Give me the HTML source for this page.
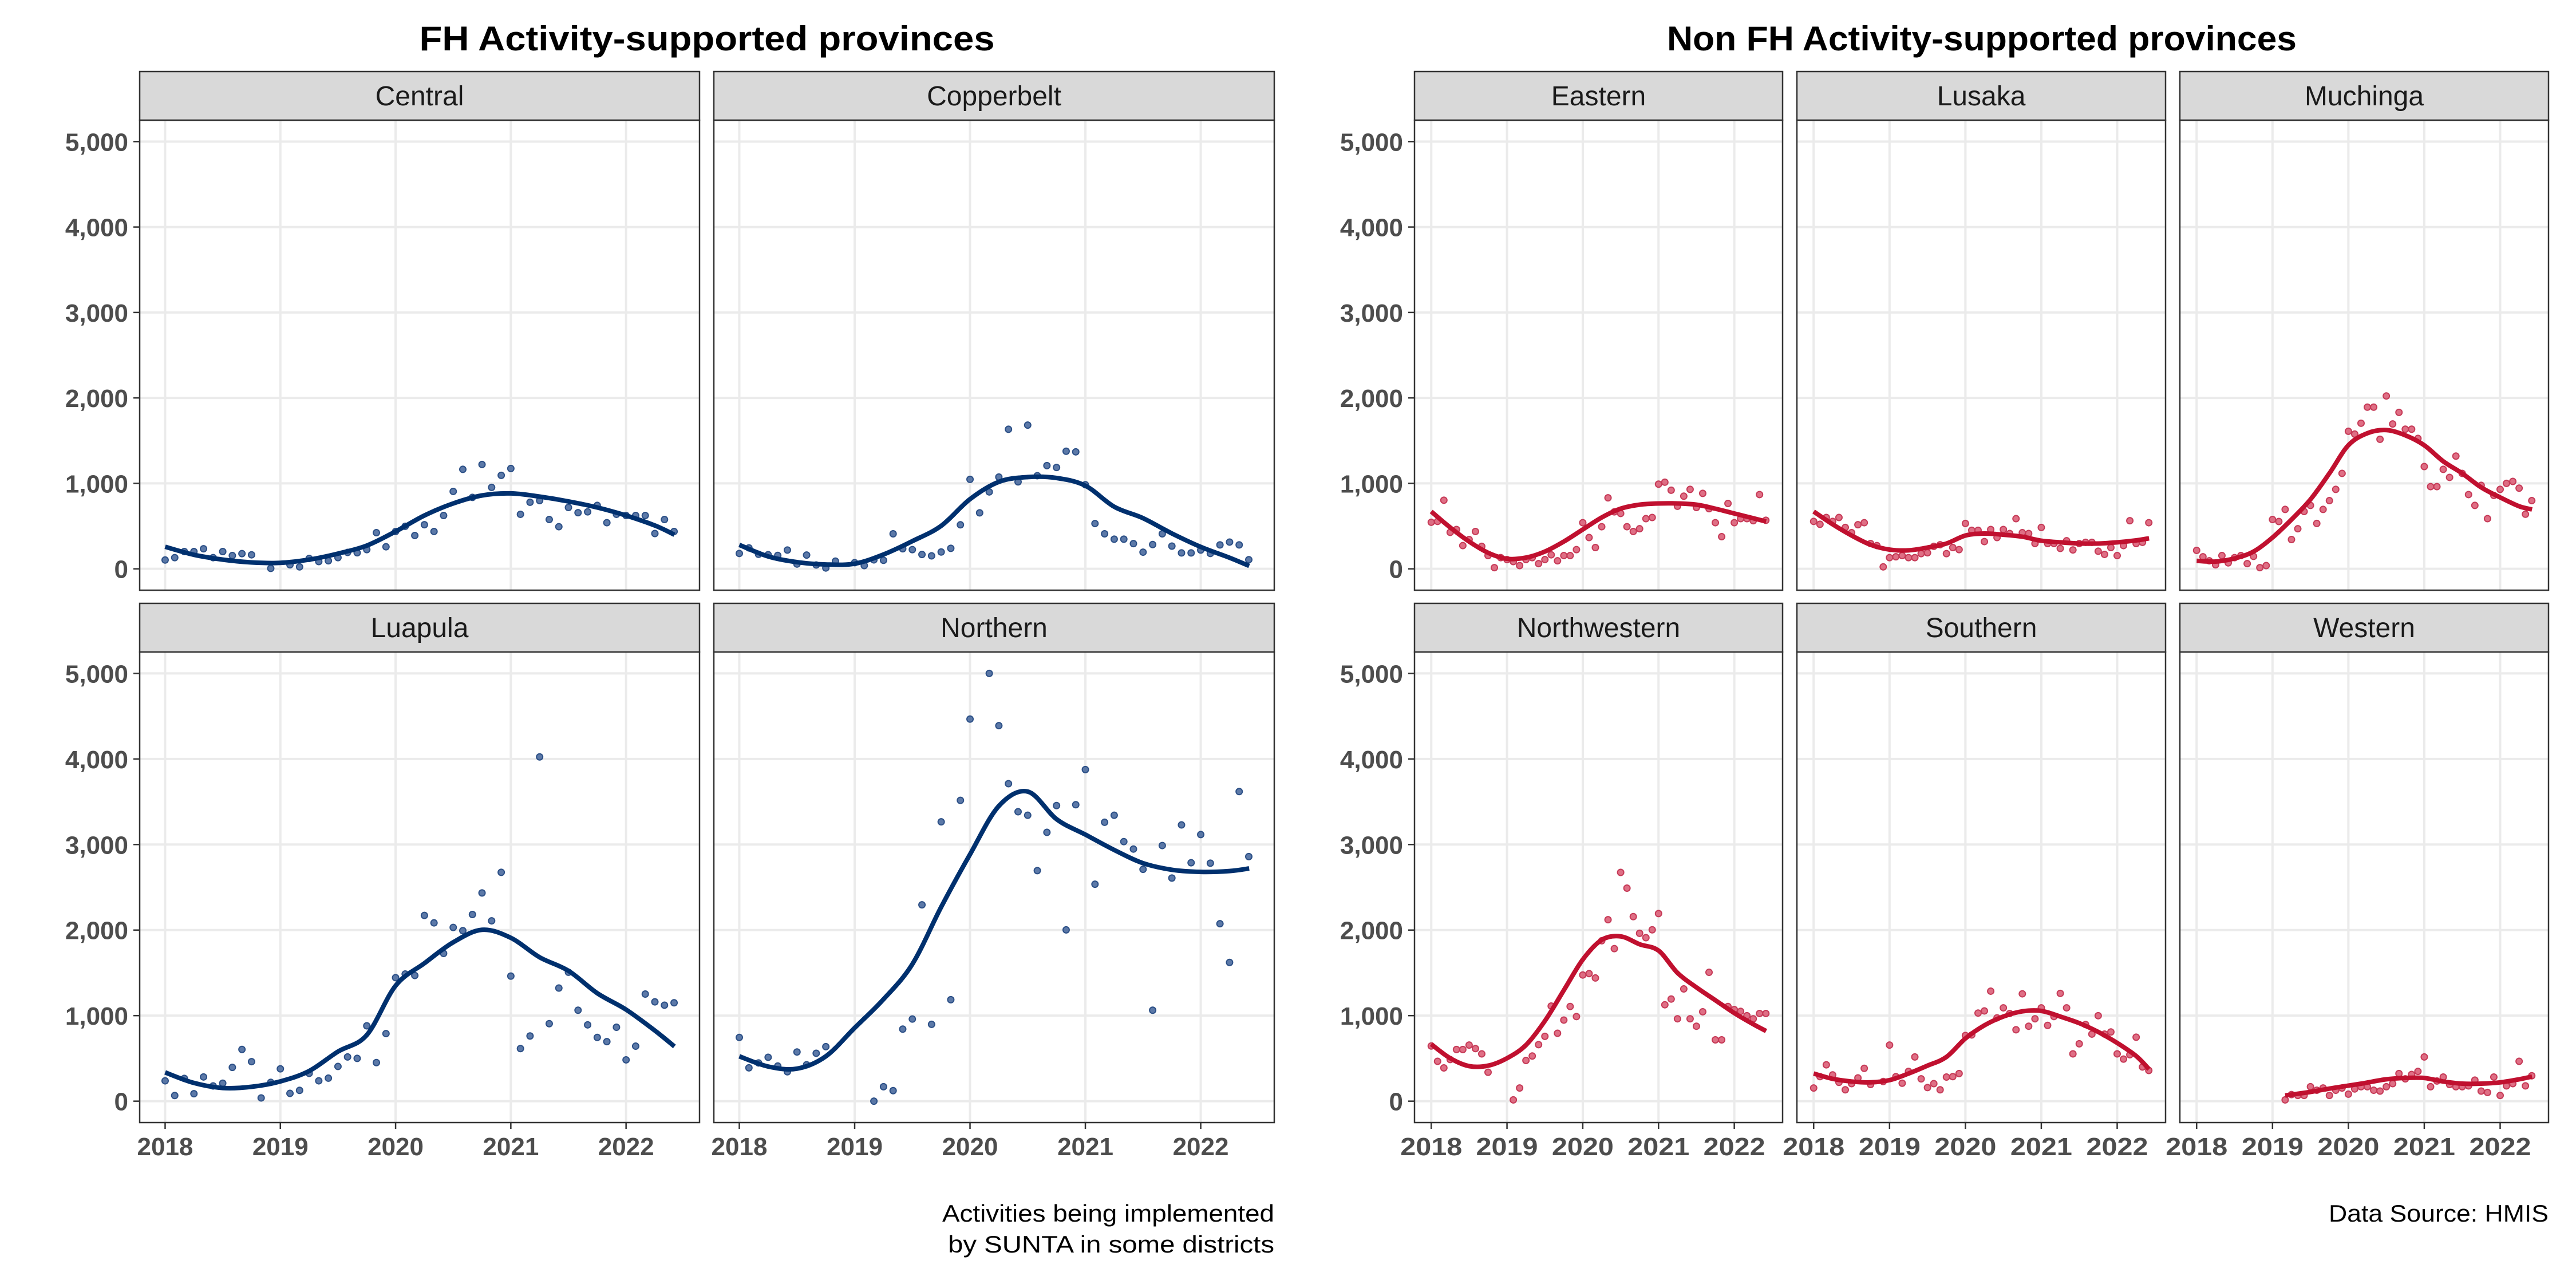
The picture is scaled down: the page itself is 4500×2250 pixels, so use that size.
<!DOCTYPE html>
<html><head><meta charset="utf-8">
<style>
html,body{margin:0;padding:0;background:#fff;}
svg{display:block;font-family:"Liberation Sans",sans-serif;}
</style></head>
<body>
<svg id="chart" xmlns="http://www.w3.org/2000/svg" width="4500" height="2250" viewBox="0 0 4500 2250">
<rect x="0" y="0" width="4500" height="2250" fill="#fff"/>
<text x="1235" y="88" text-anchor="middle" font-size="60" font-weight="bold" fill="#000" textLength="1005" lengthAdjust="spacingAndGlyphs">FH Activity-supported provinces</text>
<text x="3462" y="88" text-anchor="middle" font-size="60" font-weight="bold" fill="#000" textLength="1100" lengthAdjust="spacingAndGlyphs">Non FH Activity-supported provinces</text>
<text x="2226" y="2134" text-anchor="end" font-size="42" fill="#000" textLength="580" lengthAdjust="spacingAndGlyphs">Activities being implemented</text>
<text x="2226" y="2188" text-anchor="end" font-size="42" fill="#000" textLength="570" lengthAdjust="spacingAndGlyphs">by SUNTA in some districts</text>
<text x="4452" y="2134" text-anchor="end" font-size="42" fill="#000" textLength="384" lengthAdjust="spacingAndGlyphs">Data Source: HMIS</text>
<g id="panels"></g>
</svg>
<script>
// ---- data ----
const yTicks = [0, 1000, 2000, 3000, 4000, 5000];
const yTickLabels = ["0", "1,000", "2,000", "3,000", "4,000", "5,000"];
const xTicks = [2018, 2019, 2020, 2021, 2022];
const xTickLabels = ["2018", "2019", "2020", "2021", "2022"];
const smoothX = [2018,2018.25,2018.5,2018.75,2019,2019.25,2019.5,2019.75,2020,2020.25,2020.5,2020.75,2021,2021.25,2021.5,2021.75,2022,2022.25,2022.42];
const westernSmoothX = [2019.167,2019.5,2019.83,2020.17,2020.5,2020.75,2021,2021.25,2021.5,2021.75,2022,2022.25,2022.42];

const centralPts = [103,131,202,202,235,131,202,155,178,164,null,5,null,47,23,122,85,94,131,192,188,225,423,258,437,498,390,516,437,624,906,1164,836,1221,953,1094,1174,638,779,798,577,493,718,657,667,742,540,638,624,624,624,413,577,437];
const centralSmooth = [258,164,108,75,70,108,178,272,437,624,765,859,883,845,789,718,624,507,399];
const copperbeltPts = [180,245,170,165,157,220,56,161,45,10,90,null,72,38,105,100,410,235,225,168,152,197,240,515,1047,655,900,1074,1633,1018,1682,1090,1208,1186,1376,1369,984,530,410,347,347,295,195,284,410,266,186,186,220,180,280,313,280,107];
const copperbeltSmooth = [280,145,78,51,60,168,324,503,816,1018,1074,1063,973,727,593,414,257,130,34];
const luapulaPts = [238,66,266,87,283,178,210,395,605,462,38,220,378,91,126,325,238,269,406,517,500,881,451,790,1444,1486,1469,2171,2084,1727,2031,1993,2182,2434,2108,2675,1462,615,762,4024,906,1322,1507,1063,892,745,696,864,483,643,1252,1161,1122,1150];
const luapulaSmooth = [336,213,154,168,231,353,580,773,1350,1612,1857,2003,1909,1682,1524,1262,1070,825,640];
const northernPts = [745,390,447,513,411,344,575,426,560,637,null,null,null,null,0,169,123,842,960,2295,898,3265,1186,3516,4466,null,5000,4389,3711,3383,3342,2695,3142,3455,2002,3465,3876,2536,3260,3342,3034,2947,2710,1063,2988,2608,3229,2787,3116,2782,2074,1622,3619,2859];
const northernSmooth = [524,405,380,524,857,1191,1602,2269,2885,3450,3619,3296,3116,2936,2782,2705,2680,2690,2720];
const easternPts = [545,555,803,427,460,272,343,437,263,155,14,131,108,85,38,108,131,61,108,164,94,155,155,225,540,366,249,493,831,667,648,493,437,469,587,601,991,1014,920,732,850,930,718,883,704,540,376,765,540,587,587,563,869,568];
const easternSmooth = [671,484,319,188,117,131,202,319,460,601,704,751,765,765,751,704,648,592,554];
const lusakaPts = [555,521,601,555,601,484,423,516,540,296,272,23,131,141,155,131,131,178,188,263,282,178,249,225,531,451,451,319,460,366,460,413,587,423,413,296,484,296,296,239,329,221,296,310,310,206,169,249,155,272,563,296,310,540];
const lusakaSmooth = [671,521,390,282,225,216,249,296,390,413,399,376,329,310,296,296,310,333,357];
const muchingaPts = [216,141,94,47,155,70,131,155,61,146,14,38,577,554,695,343,469,671,742,531,695,798,930,1117,1610,1577,1704,1892,1892,1516,2023,1695,1831,1634,1634,1526,1197,962,962,1164,1070,1319,1117,869,742,977,587,859,930,1000,1023,944,639,798];
const muchingaSmooth = [94,85,122,202,366,577,812,1117,1446,1587,1624,1563,1446,1258,1117,953,836,732,695];
const northwesternPts = [645,466,389,487,604,604,656,615,553,338,null,null,null,15,154,476,528,661,758,1112,794,948,1107,989,1475,1491,1440,1875,2121,1783,2674,2490,2157,1962,1911,2003,2193,1127,1194,963,1312,963,876,1045,1506,717,717,1107,1071,1050,999,963,1025,1025];
const northwesternSmooth = [666,502,410,415,502,656,938,1296,1655,1885,1926,1834,1760,1500,1330,1180,1030,900,820];
const southernPts = [154,287,425,307,220,133,205,272,384,195,null,230,656,287,210,348,517,261,159,205,133,282,287,323,768,774,1030,1055,1286,974,1091,1025,835,1255,876,963,1091,886,989,1260,1091,553,671,896,784,999,784,809,553,492,543,748,400,359];
const southernSmooth = [323,261,230,220,246,323,415,517,733,886,989,1050,1055,989,912,809,681,528,374];
const westernPts = [null,null,null,null,null,null,null,null,null,null,null,null,null,null,15,77,67,67,169,128,154,67,128,154,82,143,169,169,128,118,169,205,323,261,312,348,517,169,236,282,195,169,169,179,246,118,102,282,67,179,205,466,179,297];
const westernSmooth = [67,108,159,205,256,271,271,230,205,205,220,256,287];

const BLUE_LINE = "#00306e", BLUE_DOT = "#3f6199", BLUE_DOT_S = "#2b4f86";
const RED_LINE = "#c0102f", RED_DOT = "#d95670", RED_DOT_S = "#c63a57";

const panels = [
 {name:"Central", pts:centralPts, sm:centralSmooth, sx:smoothX, x0:244, x1:1222, top:210, bot:1031, yl:true, xl:false, blue:true},
 {name:"Copperbelt", pts:copperbeltPts, sm:copperbeltSmooth, sx:smoothX, x0:1247, x1:2226, top:210, bot:1031, yl:false, xl:false, blue:true},
 {name:"Luapula", pts:luapulaPts, sm:luapulaSmooth, sx:smoothX, x0:244, x1:1222, top:1139, bot:1961, yl:true, xl:true, blue:true},
 {name:"Northern", pts:northernPts, sm:northernSmooth, sx:smoothX, x0:1247, x1:2226, top:1139, bot:1961, yl:false, xl:true, blue:true},
 {name:"Eastern", pts:easternPts, sm:easternSmooth, sx:smoothX, x0:2471, x1:3114, top:210, bot:1031, yl:true, xl:false, blue:false},
 {name:"Lusaka", pts:lusakaPts, sm:lusakaSmooth, sx:smoothX, x0:3139, x1:3783, top:210, bot:1031, yl:false, xl:false, blue:false},
 {name:"Muchinga", pts:muchingaPts, sm:muchingaSmooth, sx:smoothX, x0:3808, x1:4452, top:210, bot:1031, yl:false, xl:false, blue:false},
 {name:"Northwestern", pts:northwesternPts, sm:northwesternSmooth, sx:smoothX, x0:2471, x1:3114, top:1139, bot:1961, yl:true, xl:true, blue:false},
 {name:"Southern", pts:southernPts, sm:southernSmooth, sx:smoothX, x0:3139, x1:3783, top:1139, bot:1961, yl:false, xl:true, blue:false},
 {name:"Western", pts:westernPts, sm:westernSmooth, sx:westernSmoothX, x0:3808, x1:4452, top:1139, bot:1961, yl:false, xl:true, blue:false}
];

const NS = "http://www.w3.org/2000/svg";
const root = document.getElementById("panels");
function mk(tag, attrs, parent){
  const e = document.createElementNS(NS, tag);
  for (const k in attrs) e.setAttribute(k, attrs[k]);
  (parent||root).appendChild(e);
  return e;
}
const XMIN = 2018, XMAX = 2018 + 53/12;
const XPAD = (XMAX - XMIN) * 0.05;
const YMIN = -250, YMAX = 5250;

panels.forEach(p => {
  const slug = p.name.toLowerCase();
  const xs = v => p.x0 + (v - (XMIN - XPAD)) / ((XMAX + XPAD) - (XMIN - XPAD)) * (p.x1 - p.x0);
  const ys = v => p.bot - (v - YMIN) / (YMAX - YMIN) * (p.bot - p.top);
  const g = mk("g", {});
  
  
  const st = mk("rect", {x:p.x0, y:p.top-85, width:p.x1-p.x0, height:85, fill:"#d9d9d9", stroke:"#333", "stroke-width":2.5}, g);
  
  
  const stt = mk("text", {x:(p.x0+p.x1)/2, y:p.top-26, "text-anchor":"middle", "font-size":48, fill:"#1a1a1a"}, g);
  stt.textContent = p.name;
  
  
  mk("rect", {x:p.x0, y:p.top, width:p.x1-p.x0, height:p.bot-p.top, fill:"#fff"}, g);
  yTicks.forEach((t,i) => {
    const gl = mk("line", {x1:p.x0, x2:p.x1, y1:ys(t), y2:ys(t), stroke:"#ebebeb", "stroke-width":4}, g);
    
    
  });
  xTicks.forEach((t,i) => {
    const gl = mk("line", {x1:xs(t), x2:xs(t), y1:p.top, y2:p.bot, stroke:"#ebebeb", "stroke-width":4}, g);
    
    
  });
  const dotFill = p.blue ? BLUE_DOT : RED_DOT, dotStroke = p.blue ? BLUE_DOT_S : RED_DOT_S;
  p.pts.forEach((v,i) => {
    if (v === null) return;
    const c = mk("circle", {cx:xs(XMIN + i/12), cy:ys(v), r:5.5, fill:dotFill, stroke:dotStroke, "stroke-width":2, "fill-opacity":0.85}, g);
    
    
  });
  const P = p.sm.map((v,i) => [xs(p.sx[i]), ys(v)]);
  let d = "M" + P[0][0].toFixed(1) + "," + P[0][1].toFixed(1);
  for (let i = 0; i < P.length - 1; i++) {
    const p0 = P[i-1] || P[i], p1 = P[i], p2 = P[i+1], p3 = P[i+2] || P[i+1];
    const c1 = [p1[0] + (p2[0]-p0[0])/6, p1[1] + (p2[1]-p0[1])/6];
    const c2 = [p2[0] - (p3[0]-p1[0])/6, p2[1] - (p3[1]-p1[1])/6];
    d += " C" + c1[0].toFixed(1) + "," + c1[1].toFixed(1) + " " + c2[0].toFixed(1) + "," + c2[1].toFixed(1) + " " + p2[0].toFixed(1) + "," + p2[1].toFixed(1);
  }
  const ln = mk("path", {d:d, fill:"none", stroke:p.blue ? BLUE_LINE : RED_LINE, "stroke-width":8, "stroke-linejoin":"round"}, g);
  
  
  const bd = mk("rect", {x:p.x0, y:p.top, width:p.x1-p.x0, height:p.bot-p.top, fill:"none", stroke:"#333", "stroke-width":2.5}, g);
  
  
  if (p.yl) {
    yTicks.forEach((t,i) => {
      mk("line", {x1:p.x0-11, x2:p.x0, y1:ys(t), y2:ys(t), stroke:"#333", "stroke-width":2.5}, g);
      const tl = mk("text", {x:p.x0-20, y:ys(t)+16, "text-anchor":"end", "font-size":44, "font-weight":"bold", fill:"#4d4d4d"}, g);
      tl.textContent = yTickLabels[i];
      
      
    });
  }
  if (p.xl) {
    xTicks.forEach((t,i) => {
      mk("line", {x1:xs(t), x2:xs(t), y1:p.bot, y2:p.bot+11, stroke:"#333", "stroke-width":2.5}, g);
      const tl = mk("text", {x:xs(t), y:p.bot+57, "text-anchor":"middle", "font-size":44, "font-weight":"bold", fill:"#4d4d4d"}, g);
      if (p.x1 - p.x0 < 700) { tl.setAttribute('textLength', 108); tl.setAttribute('lengthAdjust', 'spacingAndGlyphs'); }
      tl.textContent = xTickLabels[i];
      
      
    });
  }
});
</script>
</body></html>
